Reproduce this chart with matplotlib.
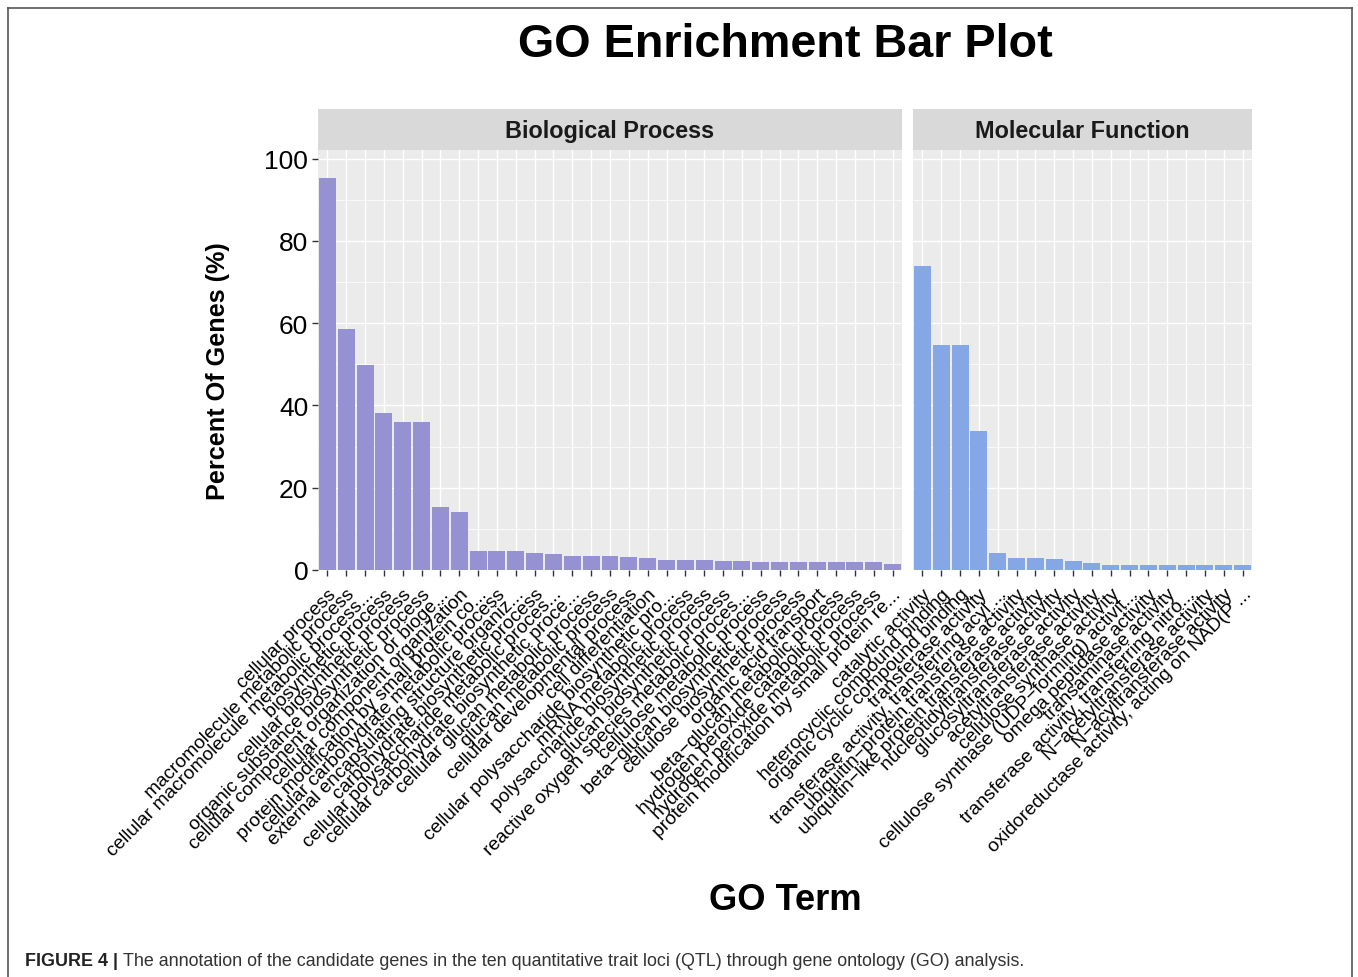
import matplotlib
matplotlib.use('Agg')
import matplotlib.pyplot as plt
from matplotlib.lines import Line2D

plt.rcParams['font.family'] = ['Liberation Sans', 'DejaVu Sans']

# Biological Process
bp_terms = [
    'cellular process',
    'macromolecule metabolic process',
    'cellular macromolecule metabolic process...',
    'biosynthetic process',
    'cellular biosynthetic process',
    'organic substance biosynthetic process',
    'cellular component organization or bioge...',
    'cellular component organization',
    'protein modification by small protein co...',
    'cellular carbohydrate metabolic process',
    'external encapsulating structure organiz...',
    'carbohydrate biosynthetic process',
    'cellular polysaccharide metabolic proces...',
    'cellular carbohydrate biosynthetic proce...',
    'cellular glucan metabolic process',
    'glucan metabolic process',
    'cellular developmental process',
    'cell differentiation',
    'cellular polysaccharide biosynthetic pro...',
    'mRNA metabolic process',
    'polysaccharide biosynthetic process',
    'glucan biosynthetic process',
    'reactive oxygen species metabolic proces...',
    'cellulose metabolic process',
    'beta\u2212glucan biosynthetic process',
    'cellulose biosynthetic process',
    'organic acid transport',
    'beta\u2212glucan metabolic process',
    'hydrogen peroxide catabolic process',
    'hydrogen peroxide metabolic process',
    'protein modification by small protein re...',
]
bp_pct = [95.2, 58.7, 49.8, 38.1, 36.0, 36.0, 15.4, 14.2, 4.7, 4.7, 4.7, 4.1,
          3.8, 3.4, 3.4, 3.4, 3.2, 2.8, 2.5, 2.5, 2.5, 2.2, 2.2, 1.9, 1.9, 1.9,
          1.9, 1.9, 1.9, 1.9, 1.5]

# Molecular Function
mf_terms = [
    'catalytic activity',
    'heterocyclic compound binding',
    'organic cyclic compound binding',
    'transferase activity',
    'transferase activity, transferring acyl ...',
    'ubiquitin\u2212protein transferase activity',
    'ubiquitin\u2212like protein transferase activity',
    'nucleotidyltransferase activity',
    'glucosyltransferase activity',
    'acetyltransferase activity',
    'cellulose synthase activity',
    'cellulose synthase (UDP\u2212forming) activit...',
    'omega peptidase activity',
    'transaminase activity',
    'transferase activity, transferring nitro...',
    'N\u2212acetyltransferase activity',
    'N\u2212acyltransferase activity',
    'oxidoreductase activity, acting on NAD(P ...',
]
mf_pct = [73.9, 54.7, 54.7, 33.9, 4.1, 2.9, 2.9, 2.7, 2.1, 1.6, 1.3, 1.3,
          1.3, 1.3, 1.3, 1.3, 1.3, 1.3]

W, H = 1358, 978
fig = plt.figure(figsize=(W / 100, H / 100), dpi=100)


def rect(x0, y0, x1, y1):
    return [x0 / W, 1 - y1 / H, (x1 - x0) / W, (y1 - y0) / H]


def panel(box, strip_box, terms, vals, color, title, show_y):
    ax = fig.add_axes(rect(*box))
    ax.set_facecolor('#EBEBEB')
    x = list(range(len(terms)))
    ax.bar(x, vals, width=0.9, color=color, zorder=3)
    ax.set_xlim(-0.5, len(terms) - 0.5)
    ax.set_ylim(0, 102.1)
    ax.set_yticks([0, 20, 40, 60, 80, 100])
    ax.set_yticks([10, 30, 50, 70, 90], minor=True)
    ax.set_xticks(x)
    ax.set_xticklabels(terms, rotation=45, ha='right', va='top',
                       rotation_mode='anchor', fontsize=13.8, color='black')
    ax.grid(which='major', color='white', linewidth=1.0, zorder=0)
    ax.grid(which='minor', axis='y', color='white', linewidth=0.5, zorder=0)
    ax.set_axisbelow(True)
    for s in ax.spines.values():
        s.set_visible(False)
    ax.tick_params(axis='x', length=4, width=1, color='#333333', pad=7)
    ax.tick_params(axis='y', which='minor', length=0)
    if show_y:
        ax.tick_params(axis='y', which='major', length=4, width=1,
                       color='#333333', labelsize=19, pad=3)
    else:
        ax.tick_params(axis='y', which='both', length=0, labelleft=False)

    st = fig.add_axes(rect(*strip_box))
    st.set_facecolor('#D9D9D9')
    st.set_xticks([])
    st.set_yticks([])
    for s in st.spines.values():
        s.set_visible(False)
    st.text(0.5, 0.47, title, ha='center', va='center', fontsize=16.8,
            fontweight='bold', color='#1A1A1A', transform=st.transAxes)
    return ax


panel((318, 151, 902, 571), (318, 110, 902, 151), bp_terms, bp_pct,
      '#9691D3', 'Biological Process', True)
panel((913, 151, 1252, 571), (913, 110, 1252, 151), mf_terms, mf_pct,
      '#85A7E6', 'Molecular Function', False)

fig.text(785 / W, 1 - 45 / H, 'GO Enrichment Bar Plot', ha='center',
         va='center', fontsize=33.7, fontweight='bold', color='black')
fig.text(218 / W, 1 - 371 / H, 'Percent Of Genes (%)', ha='center',
         va='center', rotation=90, fontsize=18.2, fontweight='bold')
fig.text(785 / W, 1 - 901 / H, 'GO Term', ha='center', va='center',
         fontsize=26.2, fontweight='bold')

# caption
cap_y = 1 - 962 / H
t1 = fig.text(25 / W, cap_y, 'FIGURE 4 |', ha='left', va='center',
              fontsize=12.9, fontweight='bold', color='#222222')
fig.canvas.draw()
bb = t1.get_window_extent(fig.canvas.get_renderer())
fig.text((bb.x1 + 5) / W, cap_y,
         'The annotation of the candidate genes in the ten quantitative trait '
         'loci (QTL) through gene ontology (GO) analysis.',
         ha='left', va='center', fontsize=12.9, color='#333333')

# frame
for xs, ys in [((8, 8), (0, 969)), ((8, 1352), (969, 969)), ((1352, 1352), (969, 0))]:
    fig.add_artist(Line2D([x / W for x in xs], [y / H for y in ys],
                          color='#555555', linewidth=1.2))

fig.savefig('out.png', dpi=100)
